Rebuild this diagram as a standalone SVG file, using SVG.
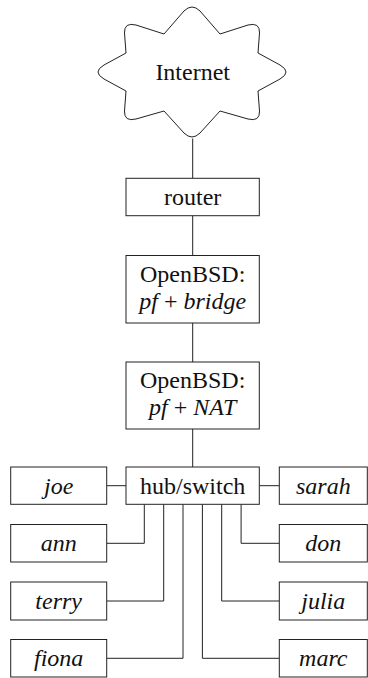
<svg xmlns="http://www.w3.org/2000/svg" width="368" height="678" viewBox="0 0 368 678">
<style>
.box{fill:#fff;stroke:#222;stroke-width:1}
.ln{fill:none;stroke:#222;stroke-width:1}
.t{font-size:24px;fill:#111;text-anchor:middle}
.i{font-style:italic}
</style>
<rect width="368" height="678" fill="#fff"/>
<g id="connectors" class="ln">
<path d="M192.7 138.5V178.3"/>
<path d="M192.7 215.7V255.5"/>
<path d="M192.7 323V362"/>
<path d="M192.7 429V467"/>
<path d="M106.7 485.7H126"/>
<path d="M259.3 485.7H279.3"/>
<path d="M144.3 504.3V543.3H106.7"/>
<path d="M241.1 504.3V543.3H279.3"/>
<path d="M163.7 504.3V601H106.7"/>
<path d="M221.7 504.3V601H279.3"/>
<path d="M183 504.3V658.3H106.7"/>
<path d="M202.4 504.3V658.3H279.3"/>
</g>
<g id="internet">
<path class="box" d="M164 34L184 11Q192 3 200 11L220 34L248 25Q260 22 259.5 33L258 53L280 65Q292 72 280 79L258 91L259.5 111Q260 122 248 119L220 111L200 133Q192 141 184 133L164 111L136 119Q124 122 124.5 111L126 91L104 79Q92 72 104 65L126 53L124.5 33Q124 22 136 25Z"/>
<text class="t" font-family="Liberation Serif" x="192.7" y="80">Internet</text>
</g>
<g id="router">
<rect class="box" x="126" y="178.3" width="133.3" height="37.4"/>
<text class="t" font-family="Liberation Serif" x="192.7" y="205">router</text>
</g>
<g id="openbsd-bridge">
<rect class="box" x="126" y="255.5" width="133.3" height="67.5"/>
<text class="t" font-family="Liberation Serif" x="192.7" y="281.5">OpenBSD:</text>
<text class="t" font-family="Liberation Serif" x="192.7" y="308.5"><tspan class="i">pf</tspan> + <tspan class="i">bridge</tspan></text>
</g>
<g id="openbsd-nat">
<rect class="box" x="126" y="362" width="133.3" height="67"/>
<text class="t" font-family="Liberation Serif" x="192.7" y="388">OpenBSD:</text>
<text class="t" font-family="Liberation Serif" x="192.7" y="415"><tspan class="i">pf</tspan> + <tspan class="i">NAT</tspan></text>
</g>
<g id="hub">
<rect class="box" x="126" y="467" width="133.3" height="37.3"/>
<text class="t" font-family="Liberation Serif" x="192.7" y="493.7">hub/switch</text>
</g>
<g id="joe"><rect class="box" x="10.7" y="467" width="96" height="37.3"/><text class="t i" font-family="Liberation Serif" x="58.7" y="493.7">joe</text></g>
<g id="ann"><rect class="box" x="10.7" y="524.5" width="96" height="37.5"/><text class="t i" font-family="Liberation Serif" x="58.7" y="551.3">ann</text></g>
<g id="terry"><rect class="box" x="10.7" y="582" width="96" height="38"/><text class="t i" font-family="Liberation Serif" x="58.7" y="609">terry</text></g>
<g id="fiona"><rect class="box" x="10.7" y="639.5" width="96" height="37.5"/><text class="t i" font-family="Liberation Serif" x="58.7" y="666.3">fiona</text></g>
<g id="sarah"><rect class="box" x="279.3" y="467" width="88" height="37.3"/><text class="t i" font-family="Liberation Serif" x="323.3" y="493.7">sarah</text></g>
<g id="don"><rect class="box" x="279.3" y="524.5" width="88" height="37.5"/><text class="t i" font-family="Liberation Serif" x="323.3" y="551.3">don</text></g>
<g id="julia"><rect class="box" x="279.3" y="582" width="88" height="38"/><text class="t i" font-family="Liberation Serif" x="323.3" y="609">julia</text></g>
<g id="marc"><rect class="box" x="279.3" y="639.5" width="88" height="37.5"/><text class="t i" font-family="Liberation Serif" x="323.3" y="666.3">marc</text></g>
</svg>
